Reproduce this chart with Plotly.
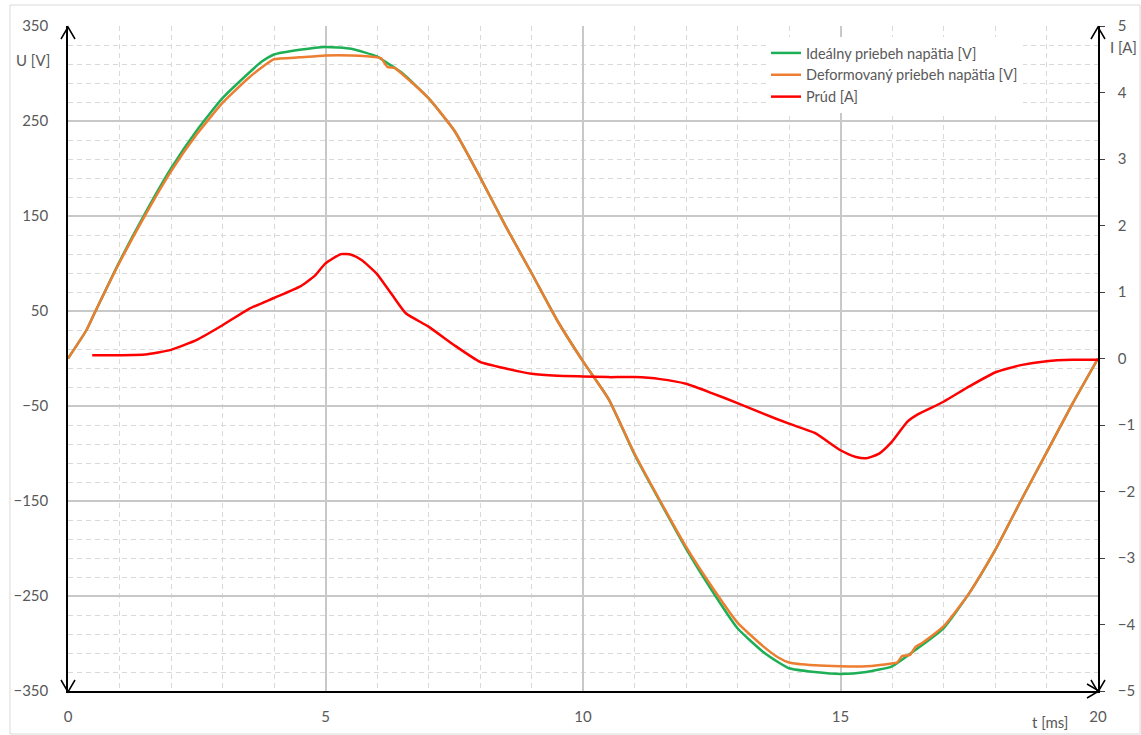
import plotly.graph_objects as go

# ---------------- data ----------------
t_ideal = [0, 0.36, 0.5, 1, 1.5, 2, 2.5, 3, 3.5, 3.75, 4, 4.5, 5, 5.5, 6, 6.2, 6.5, 7, 7.5, 8, 8.5, 9, 9.5,
           10, 10.5, 11, 11.5, 12, 12.5, 13, 13.5, 13.8, 14, 14.5, 15, 15.5, 16, 16.5, 17, 17.5, 18, 18.5,
           19, 19.5, 20]
u_ideal = [0, 30, 46, 102, 153, 200, 240, 274, 300, 312, 320, 325, 328, 326, 318, 311, 300, 274, 240, 191, 139,
           90, 40, -3, -43, -101, -151, -200, -244, -284, -309, -320, -326, -330, -332, -330, -324, -305,
           -284, -247, -202, -150, -99, -48, 0]

t_deform = [0, 0.36, 0.5, 1, 1.5, 2, 2.5, 3, 3.5, 3.8, 4, 4.5, 5, 5.5, 6, 6.08, 6.2, 6.34, 6.5, 7, 7.5, 8, 8.5,
            9, 9.5, 10, 10.5, 11, 11.5, 12, 12.5, 13, 13.5, 13.8, 14, 14.5, 15, 15.5, 16, 16.1, 16.2, 16.35,
            16.45, 16.6, 17, 17.5, 18, 18.5, 19, 19.5, 20]
u_deform = [0, 30, 46, 101, 151, 197, 236, 269, 295, 308, 315, 317, 319, 319, 317, 316, 307, 306, 299, 274, 240,
            191, 139, 90, 40, -3, -43, -100, -150, -198, -240, -278, -303, -315, -320, -323, -324, -324, -321,
            -320, -313, -312, -304, -299, -282, -247, -202, -150, -99, -48, 0]

t_current = [0.47, 1, 1.5, 2, 2.5, 3, 3.5, 4, 4.5, 4.8, 5, 5.3, 5.5, 5.7, 6, 6.3, 6.56, 7, 7.5, 8, 8.5, 9,
             9.5, 10, 10.5, 11, 11.5, 12, 12.5, 13, 13.5, 14, 14.5, 15, 15.3, 15.5, 15.75, 16, 16.3, 16.5, 17,
             17.5, 18, 18.5, 19, 19.5, 20]
i_current = [0.05, 0.05, 0.06, 0.13, 0.28, 0.50, 0.74, 0.91, 1.08, 1.25, 1.43, 1.57, 1.56, 1.48, 1.27, 0.95,
             0.68, 0.48, 0.20, -0.05, -0.15, -0.23, -0.26, -0.27, -0.28, -0.28, -0.31, -0.38, -0.52, -0.67,
             -0.83, -0.98, -1.12, -1.38, -1.48, -1.50, -1.43, -1.25, -0.95, -0.84, -0.65, -0.42, -0.21, -0.10,
             -0.04, -0.02, -0.02]

u_ticks = [-350, -250, -150, -50, 50, 150, 250, 350]
i_ticks = [-5, -4, -3, -2, -1, 0, 1, 2, 3, 4, 5]
t_ticks = [0, 5, 10, 15, 20]

names = ["Ideálny priebeh napätia [V]", "Deformovaný priebeh napätia [V]", "Prúd [A]"]

# ---------------- styling ----------------
FONT = "Lato"
TXT = "#595959"
W, H = 1141, 735
L, R, T, B = 68, 1098, 26, 691


def px(x, y):
    return (x - L) / (R - L), (B - y) / (B - T)


line_common = dict(width=2.5, shape="spline", smoothing=0.5)
fig = go.Figure()
fig.add_trace(go.Scatter(x=t_ideal, y=u_ideal, name=names[0], mode="lines",
                         line=dict(color="#1DAF55", **line_common)))
fig.add_trace(go.Scatter(x=t_deform, y=u_deform, name=names[1], mode="lines",
                         line=dict(color="#ED7D31", **line_common)))
fig.add_trace(go.Scatter(x=t_current, y=i_current, name=names[2], mode="lines", yaxis="y2",
                         line=dict(color="#FF0000", **line_common)))

fig.update_layout(
    width=W, height=H,
    margin=dict(l=L, r=W - R, t=T, b=H - B, autoexpand=False),
    paper_bgcolor="white", plot_bgcolor="white",
    font=dict(family=FONT, size=15, color=TXT),
    showlegend=True,
    legend=dict(x=px(766, 0)[0], y=px(0, 37)[1], xanchor="left", yanchor="top",
                bgcolor="white", borderwidth=0, font=dict(size=14.5, color=TXT),
                tracegroupgap=0, itemwidth=30),
    xaxis=dict(range=[0, 20], tickmode="array", tickvals=t_ticks, showgrid=True, gridcolor="#c8c8c8",
               gridwidth=1.5, automargin=False,
               minor=dict(tickmode="linear", dtick=1, tick0=0, showgrid=True, gridcolor="#d9d9d9",
                          griddash="5px,4px", gridwidth=1),
               showline=True, linecolor="black", linewidth=1.5, zeroline=False,
               ticks="", ticklabelstandoff=11),
    yaxis=dict(range=[-350, 350], tickmode="array", tickvals=u_ticks, showgrid=True, gridcolor="#c8c8c8",
               gridwidth=1.5, automargin=False,
               minor=dict(tickmode="linear", dtick=20, tick0=-350, showgrid=True, gridcolor="#d9d9d9",
                          griddash="5px,4px", gridwidth=1),
               showline=True, linecolor="black", linewidth=1.5, zeroline=False,
               ticks="", ticklabelstandoff=15),
    yaxis2=dict(range=[-5, 5], tickmode="array", tickvals=i_ticks, overlaying="y", side="right",
                showgrid=False, minor=dict(showgrid=False), automargin=False,
                showline=True, linecolor="black", linewidth=1.5, zeroline=False,
                ticks="outside", ticklen=5, tickcolor="#404040", ticklabelstandoff=10),
)


def arrow(apex, w1, w2):
    a = px(*apex); b = px(*w1); c = px(*w2)
    return dict(type="path", xref="paper", yref="paper",
                path=f"M{b[0]},{b[1]} L{a[0]},{a[1]} L{c[0]},{c[1]}",
                line=dict(color="black", width=1.5))


shapes = [
    arrow((68, 27), (61, 39), (75, 39)),
    arrow((68, 692), (61, 680), (75, 680)),
    arrow((1098, 27), (1091, 39), (1105, 39)),
    arrow((1098, 692), (1091, 680), (1105, 680)),
    arrow((1099, 691), (1087, 684), (1087, 698)),
]
x0, y0 = px(10, 5)
x1, y1 = px(1140, 734)
shapes.append(dict(type="rect", xref="paper", yref="paper", x0=x0, y0=y1, x1=x1, y1=y0,
                   line=dict(color="#d9d9d9", width=1), layer="below"))
fig.update_layout(shapes=shapes)

ann = []
for text, (cx, cy) in [("U [V]", (33, 60)), ("I [A]", (1123, 47)), ("t [ms]", (1050, 722))]:
    xp, yp = px(cx, cy)
    ann.append(dict(text=text, x=xp, y=yp, xref="paper", yref="paper", showarrow=False,
                    xanchor="center", yanchor="middle", font=dict(family=FONT, size=15, color=TXT)))
fig.update_layout(annotations=ann)

fig.write_html("out.html", config={"displayModeBar": False},
               post_script="document.body.style.margin='0px';document.body.style.overflow='hidden';")
